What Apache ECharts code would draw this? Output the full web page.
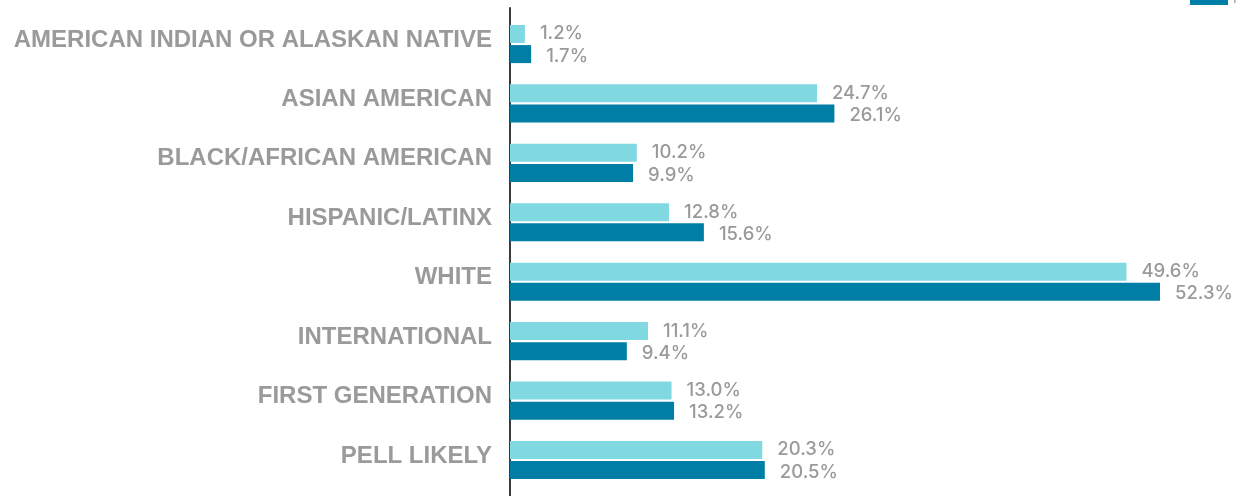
<!DOCTYPE html>
<html>
<head>
<meta charset="utf-8">
<script src="https://cdn.jsdelivr.net/npm/echarts@6/dist/echarts.min.js"></script>
<style>
  html, body { margin: 0; padding: 0; background: #fff; }
  #chart { width: 1240px; height: 496px; }
</style>
</head>
<body>
<div id="chart"></div>
<script>
// Student population shares by group, two cohorts
const categories = [
  'AMERICAN INDIAN OR ALASKAN NATIVE',
  'ASIAN AMERICAN',
  'BLACK/AFRICAN AMERICAN',
  'HISPANIC/LATINX',
  'WHITE',
  'INTERNATIONAL',
  'FIRST GENERATION',
  'PELL LIKELY'
];
const seriesNames = ['Fall 2023', 'Fall 2024'];
const valuesA = [1.2, 24.7, 10.2, 12.8, 49.6, 11.1, 13.0, 20.3];
const valuesB = [1.7, 26.1, 9.9, 15.6, 52.3, 9.4, 13.2, 20.5];

const LABEL_FONT = 'Liberation Sans';
const VALUE_FONT = 'Inter';
const GREY = '#9a9a9c';

const chart = echarts.init(document.getElementById('chart'), null, { renderer: 'canvas' });

function valueLabel(offsetY) {
  return {
    show: true,
    position: 'right',
    distance: 15,
    offset: [0, offsetY],
    formatter: p => p.value.toFixed(1) + '%',
    fontFamily: VALUE_FONT,
    fontSize: 18.5,
    fontWeight: 500,
    color: GREY
  };
}

chart.setOption({
  animation: false,
  legend: {
    orient: 'vertical',
    left: 1185,
    top: -33,
    itemWidth: 38,
    itemHeight: 12,
    itemGap: 6,
    icon: 'rect',
    textStyle: { fontFamily: VALUE_FONT, fontSize: 14, color: GREY },
    data: seriesNames
  },
  grid: [
    { left: 510, right: 34, top: 14.3, height: 475.4, containLabel: false },
    { left: 510, right: 34, top: 8, bottom: -4, containLabel: false }
  ],
  xAxis: [
    {
      gridIndex: 0, type: 'value', min: 0, max: 56,
      axisLine: { show: false }, axisTick: { show: false },
      axisLabel: { show: false }, splitLine: { show: false }
    },
    {
      gridIndex: 1, type: 'value', min: 0, max: 1,
      axisLine: { show: false }, axisTick: { show: false },
      axisLabel: { show: false }, splitLine: { show: false }
    }
  ],
  yAxis: [
    {
      gridIndex: 0, type: 'category', inverse: true, data: categories,
      axisLine: { show: false }, axisTick: { show: false },
      axisLabel: {
        margin: 18,
        fontFamily: LABEL_FONT, fontSize: 24, fontWeight: 'bold', color: GREY,
        verticalAlign: 'bottom',
        lineHeight: 8
      }
    },
    {
      gridIndex: 1, type: 'value', min: 0, max: 1,
      axisLine: { show: true, lineStyle: { color: '#3a3a3a', width: 2 } },
      axisTick: { show: false }, axisLabel: { show: false }, splitLine: { show: false }
    }
  ],
  series: [
    {
      name: seriesNames[0], type: 'bar', xAxisIndex: 0, yAxisIndex: 0,
      data: valuesA, barWidth: 18, barGap: '12%',
      itemStyle: { color: '#80d9e0' },
      label: valueLabel(0)
    },
    {
      name: seriesNames[1], type: 'bar', xAxisIndex: 0, yAxisIndex: 0,
      data: valuesB, barWidth: 18, barGap: '12%',
      itemStyle: { color: '#007ea6' },
      label: valueLabel(2)
    }
  ]
});
</script>
</body>
</html>
